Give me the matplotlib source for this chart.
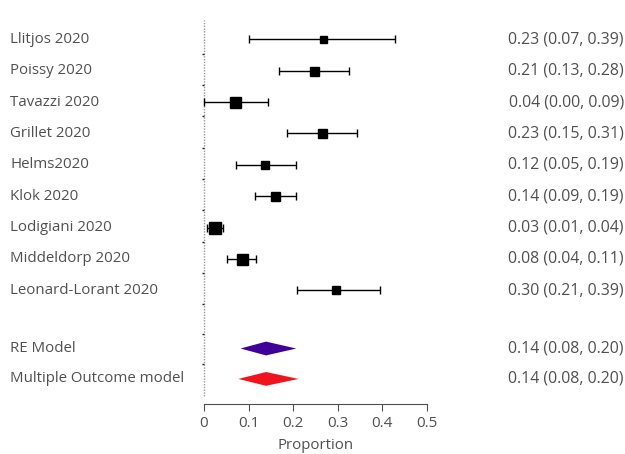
import numpy as np
import matplotlib
matplotlib.use("Agg")
import matplotlib.pyplot as plt
from matplotlib.patches import Polygon
from matplotlib.transforms import blended_transform_factory

plt.rcParams['font.family'] = ['Open Sans', 'DejaVu Sans']

# Etudes
etudes = ["Llitjos 2020", "Poissy 2020", "Tavazzi 2020", "Grillet 2020", "Helms2020",
          "Klok 2020", "Lodigiani 2020", "Middeldorp 2020", "Leonard-Lorant 2020"]
estimation = [0.266, 0.246, 0.070, 0.264, 0.137, 0.160, 0.025, 0.086, 0.297]
ic_bas = [0.100, 0.169, 0.000, 0.186, 0.071, 0.115, 0.0075, 0.051, 0.209]
ic_haut = [0.429, 0.326, 0.143, 0.342, 0.207, 0.207, 0.043, 0.117, 0.395]
poids = [7, 9, 11, 9, 8, 9, 12, 11, 8]  # taille des carres (px)
textes = ["0.23 (0.07, 0.39)", "0.21 (0.13, 0.28)", "0.04 (0.00, 0.09)", "0.23 (0.15, 0.31)",
          "0.12 (0.05, 0.19)", "0.14 (0.09, 0.19)", "0.03 (0.01, 0.04)", "0.08 (0.04, 0.11)",
          "0.30 (0.21, 0.39)"]

# Modeles
modeles = ["RE Model", "Multiple Outcome model"]
mod_est = [0.139, 0.139]
mod_bas = [0.082, 0.077]
mod_haut = [0.207, 0.212]
mod_textes = ["0.14 (0.08, 0.20)", "0.14 (0.08, 0.20)"]
mod_couleurs = ["#40009a", "#f0141e"]

gris = "#505050"

fig = plt.figure(figsize=(6.25, 4.54), dpi=100)
ax = fig.add_axes([204 / 625, 50 / 454, 223 / 625, 384 / 454])
ax.set_xlim(0, 0.5)
ax.set_ylim(0.37, 12.62)

lignes = list(range(12, 12 - len(etudes), -1))
lignes_mod = [2.14, 1.17]

# ligne verticale pointillee a 0
ax.plot([0, 0], [0.62, 12.62], color="#999999", linestyle=(0, (1, 1)), linewidth=1, clip_on=False)
tirets = list(np.arange(11.55, 3.5, -1)) + [2.6, 1.64]
ax.plot([-0.002] * len(tirets), tirets, linestyle="none", marker="_", markersize=2,
        color="#222222", clip_on=False)

for y, e, b, h, p in zip(lignes, estimation, ic_bas, ic_haut, poids):
    ax.errorbar(e, y, xerr=[[e - b], [h - e]], fmt="none", ecolor="black",
                elinewidth=1, capsize=3, capthick=1, clip_on=False)
    ax.plot(e, y, marker="s", color="black", markersize=p * 0.72, linestyle="none", clip_on=False)

for y, e, b, h, c in zip(lignes_mod, mod_est, mod_bas, mod_haut, mod_couleurs):
    d = Polygon([[b, y], [e, y + 0.22], [h, y], [e, y - 0.22]], closed=True,
                facecolor=c, edgecolor="none", clip_on=False)
    ax.add_patch(d)

# textes gauche et droite
trans = blended_transform_factory(fig.transFigure, ax.transData)
for y, nom, t in zip(lignes + lignes_mod, etudes + modeles, textes + mod_textes):
    ax.text(10 / 625, y, nom, transform=trans, ha="left", va="center", fontsize=10.8, color=gris)
    ax.text(624 / 625, y, t, transform=trans, ha="right", va="center", fontsize=11.4, color=gris)

for s in ["top", "right", "left"]:
    ax.spines[s].set_visible(False)
ax.spines["bottom"].set_color(gris)
ax.set_yticks([])
ax.set_xticks([0, 0.1, 0.2, 0.3, 0.4, 0.5])
ax.set_xticklabels(["0", "0.1", "0.2", "0.3", "0.4", "0.5"])
ax.tick_params(axis="x", colors=gris, labelsize=11, length=5)
ax.set_xlabel("Proportion", fontsize=10.8, color=gris, labelpad=5)

fig.savefig("out.png", dpi=100)
